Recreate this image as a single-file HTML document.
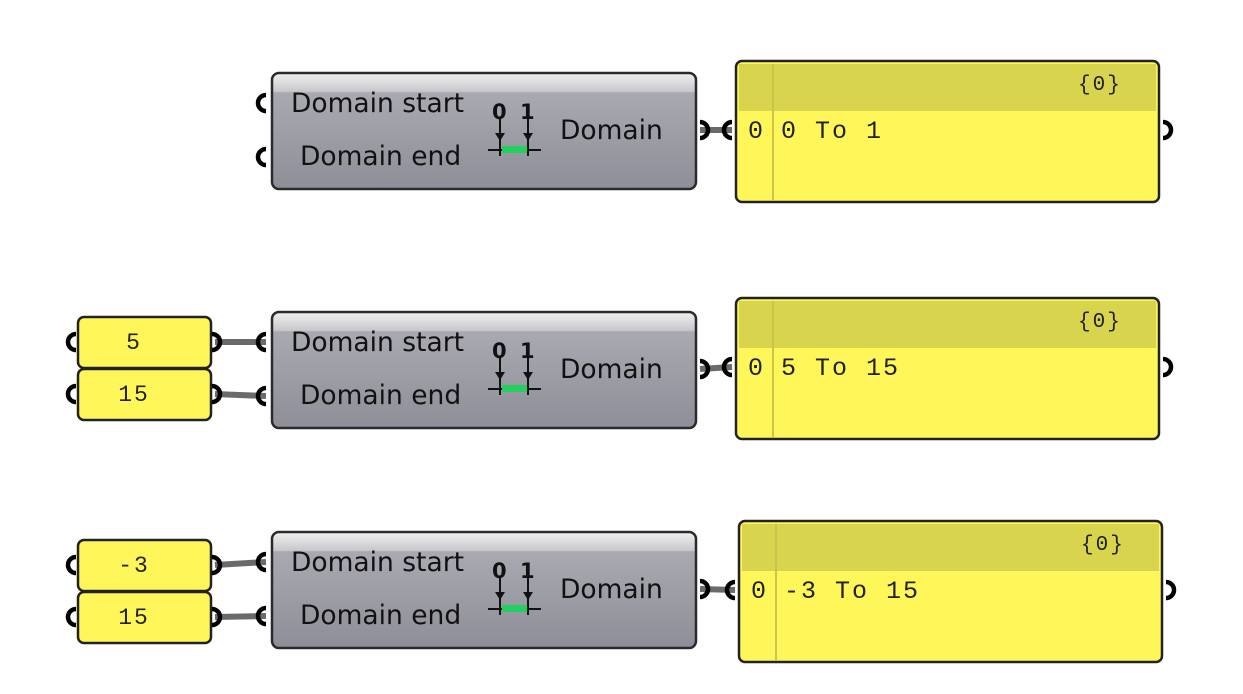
<!DOCTYPE html>
<html><head><meta charset="utf-8"><style>
html,body{margin:0;padding:0;background:#fff;}
svg{display:block;}
.t{font-family:"DejaVu Sans","Liberation Sans",sans-serif;font-size:26.5px;fill:#111;}
.m{font-family:"Liberation Mono",monospace;font-size:25px;fill:#222;letter-spacing:2px;}
</style></head><body>
<svg id="c" width="1243" height="694" viewBox="0 0 1243 694" xmlns="http://www.w3.org/2000/svg">
<defs>
<linearGradient id="cg" x1="0" y1="0" x2="0" y2="1">
<stop offset="0" stop-color="#f0f0f2"/><stop offset="0.16" stop-color="#c8c8cc"/><stop offset="0.17" stop-color="#a9a9b1"/><stop offset="1" stop-color="#8e8e98"/>
</linearGradient>
</defs>
</svg>
<script>
const compTops=[73,312,532];
const panelTops=[61,298,521];
const panelX=[736,736,739];
const domainText=["0 To 1","5 To 15","-3 To 15"];
const startVals=[null,"5","-3"];
const endVals=[null,"15","15"];
const NS="http://www.w3.org/2000/svg";
const svg=document.getElementById('c');
function mk(tag,attrs,parent,text){const e=document.createElementNS(NS,tag);for(const k in attrs)e.setAttribute(k,attrs[k]);if(text!==undefined)e.textContent=text;(parent||svg).appendChild(e);return e;}
function port(x,y,g){mk('path',{d:`M${x+4} ${y-8} A8 8 0 0 0 ${x+4} ${y+8}`,fill:'none',stroke:'#000','stroke-width':4.5},g);}
function portR(x,y,g){mk('path',{d:`M${x-4} ${y-8} A8 8 0 0 1 ${x-4} ${y+8}`,fill:'none',stroke:'#000','stroke-width':4.5},g);}
for(let i=0;i<3;i++){
  const ct=compTops[i], pt=panelTops[i], px=panelX[i];
  const row=mk('g',{});
  
  
  const ys=ct+30, ye=ct+84, yo=ct+57;
  const wire=mk('path',{d:`M700 ${yo} L${px-4} ${pt+69}`,stroke:'#6a6a6a','stroke-width':6,fill:'none'},row);
  
  
  if(startVals[i]!==null){
    const sTop=[0,317,540][i];
    const w1=mk('path',{d:`M215 ${sTop+25} L266 ${ys}`,stroke:'#6a6a6a','stroke-width':6,fill:'none'},row);
    
    
    const w2=mk('path',{d:`M215 ${sTop+77} L266 ${ye}`,stroke:'#6a6a6a','stroke-width':6,fill:'none'},row);
    
    
    const vals=[startVals[i],endVals[i]];
    for(let k=0;k<2;k++){
      const g=mk('g',{},row);
      
      
      const y=sTop+k*52;
      mk('rect',{x:78,y:y,width:133,height:51,rx:6,fill:'#fff75a',stroke:'#222','stroke-width':2.5},g);
      mk('text',{x:134,y:y+32,'text-anchor':'middle',class:'m',style:'font-size:23px'},g,vals[k]);
      port(72,y+25,g);portR(216,y+25,g);
    }
  }
  const comp=mk('g',{},row);
  
  
  mk('rect',{x:272,y:ct,width:424,height:116,rx:7,fill:'url(#cg)',stroke:'#2a2a2a','stroke-width':2.5},comp);
  port(262,ys,comp);port(262,ye,comp);portR(704,yo,comp);
  mk('text',{x:291,y:ct+39,class:'t'},comp,'Domain start');
  mk('text',{x:300,y:ct+92,class:'t'},comp,'Domain end');
  mk('text',{x:560,y:ct+66,class:'t'},comp,'Domain');
  const ic=mk('g',{},comp);
  
  
  mk('text',{x:492,y:ct+46,style:'font:bold 21px "DejaVu Sans",sans-serif;fill:#111'},ic,'0');
  mk('text',{x:520,y:ct+46,style:'font:bold 21px "DejaVu Sans",sans-serif;fill:#111'},ic,'1');
  mk('path',{d:`M500 ${ct+46}V${ct+70} M528 ${ct+46}V${ct+70} M488 ${ct+77}H541 M500 ${ct+70}V${ct+83} M528 ${ct+70}V${ct+83}`,stroke:'#111','stroke-width':2},ic);
  mk('path',{d:`M495 ${ct+60}L500 ${ct+68}L505 ${ct+60}Z M523 ${ct+60}L528 ${ct+68}L533 ${ct+60}Z`,fill:'#111'},ic);
  mk('rect',{x:502,y:ct+73,width:25,height:7,fill:'#20d060'},ic);
  const p=mk('g',{},row);
  
  
  mk('rect',{x:px,y:pt,width:423,height:141,rx:6,fill:'#fff75a',stroke:'#222','stroke-width':2.5},p);
  mk('rect',{x:px+3,y:pt+3,width:417,height:47,fill:'#d9d44e'},p);
  mk('line',{x1:px+37,y1:pt+3,x2:px+37,y2:pt+139,stroke:'#c9c44a','stroke-width':2},p);
  mk('text',{x:px+342,y:pt+29,class:'m',style:'font-size:21px'},p,'{0}');
  mk('text',{x:px+12,y:pt+77,class:'m'},p,'0');
  mk('text',{x:px+45,y:pt+77,class:'m','xml:space':'preserve'},p,domainText[i]);
  port(px-8,pt+69,p);portR(px+431,pt+69,p);
}
</script>
</body></html>
